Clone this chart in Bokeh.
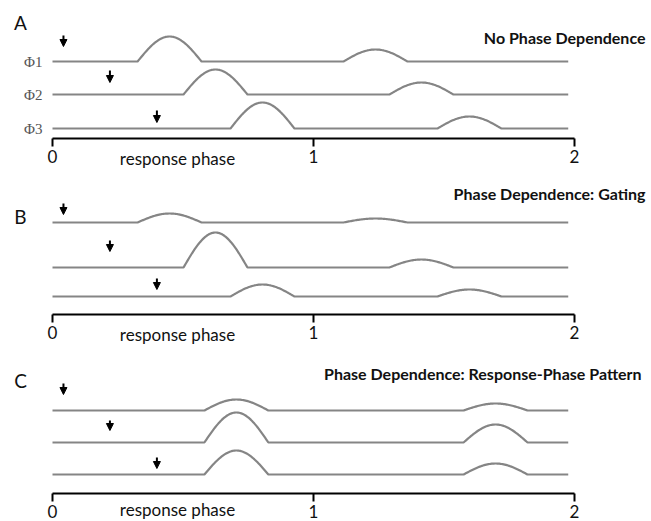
import numpy as np
from bokeh.plotting import figure
from bokeh.models import (Range1d, LinearAxis, FixedTicker, Label, Arrow,
                          NormalHead, ColumnDataSource)
from bokeh.embed import file_html
from bokeh.resources import INLINE

# ---- data -------------------------------------------------------------
phase_ticks = [0, 1, 2]
trace_names = ["\u03a61", "\u03a62", "\u03a63"]
stim_phase = [0.042, 0.22, 0.40]          # arrow (stimulus) phase per trace
bump_width = 0.245
trace_end = 1.976

# A: no phase dependence
a_first_start = [0.326, 0.502, 0.682]
a_second_start = [1.115, 1.291, 1.475]
a_first_amp = [25, 25, 26]
a_second_amp = [12, 12, 12]

# B: gating
b_first_start = [0.326, 0.502, 0.682]
b_second_start = [1.115, 1.291, 1.475]
b_first_amp = [9, 35, 12]
b_second_amp = [4, 8, 7]

# C: response-phase pattern
c_first_start = [0.582, 0.582, 0.582]
c_second_start = [1.575, 1.575, 1.575]
c_first_amp = [11, 30, 24]
c_second_amp = [7, 18, 11]

# ---- canvas -----------------------------------------------------------
W, H = 651, 521
PX_PER_PHASE = 261.0
X0 = -52 / PX_PER_PHASE
X1 = (W - 52) / PX_PER_PHASE
FONT = "Lato"

p = figure(width=W, height=H, x_range=Range1d(X0, X1), y_range=Range1d(0, H),
           output_backend="svg", toolbar_location=None,
           x_axis_location=None, y_axis_location=None,
           min_border_left=0, min_border_right=0, min_border_top=0,
           min_border_bottom=0, outline_line_color=None,
           background_fill_color="white", border_fill_color="white")
p.grid.visible = False


def arch(start, amp, base):
    t = np.linspace(0, 1, 60)
    return list(start + t * bump_width), list(base + amp * np.sin(np.pi * t))


def trace(base, s1, a1, s2, a2):
    xs, ys = [0.0], [base]
    for s, a in ((s1, a1), (s2, a2)):
        bx, by = arch(s, a, base)
        xs += bx
        ys += by
    xs.append(trace_end)
    ys.append(base)
    return xs, ys


def panel(level, letter, title, bases, arrow_y, letter_y, title_y,
          first_start, first_amp, second_start, second_amp, names=False,
          caption_dy=-20):
    """Draw one panel whose phase axis sits at height `level`."""
    ax = LinearAxis(ticker=FixedTicker(ticks=phase_ticks), bounds=(0, 2),
                    fixed_location=level)
    ax.axis_line_color = "black"
    ax.axis_line_width = 2.2
    ax.major_tick_line_color = "black"
    ax.major_tick_line_width = 2
    ax.major_tick_out = 8
    ax.major_tick_in = 0
    ax.minor_tick_out = 0
    ax.minor_tick_in = 0
    ax.major_label_standoff = 3
    ax.major_label_text_font = FONT
    ax.major_label_text_font_size = "17px"
    ax.major_label_text_color = "#111111"
    p.add_layout(ax, "below")

    for i in range(3):
        xs, ys = trace(level + bases[i], first_start[i], first_amp[i],
                       second_start[i], second_amp[i])
        p.line(xs, ys, line_color="#858585", line_width=2.2)

    src = ColumnDataSource(dict(x=stim_phase,
                                y0=[level + a[1] for a in arrow_y],
                                y1=[level + a[0] for a in arrow_y]))
    p.add_layout(Arrow(end=NormalHead(size=7, fill_color="black",
                                      line_color="black", line_width=1),
                       x_start="x", y_start="y0", x_end="x", y_end="y1",
                       source=src, line_color="black", line_width=2))

    p.add_layout(Label(x=-32 / PX_PER_PHASE, y=level + letter_y, text=letter,
                       text_font=FONT, text_font_size="19px",
                       text_align="center", text_baseline="middle",
                       text_color="#111111"))
    p.add_layout(Label(x=(645 - 52) / PX_PER_PHASE, y=level + title_y,
                       text=title, text_font=FONT, text_font_style="bold",
                       text_font_size="16px", text_align="right",
                       text_baseline="middle", text_color="#111111"))
    p.add_layout(Label(x=125 / PX_PER_PHASE, y=level + caption_dy,
                       text="response phase",
                       text_font=FONT, text_font_size="17px",
                       text_align="center", text_baseline="middle",
                       text_color="#111111"))
    if names:
        for i in range(3):
            p.add_layout(Label(x=-10 / PX_PER_PHASE, y=level + bases[i],
                               text=trace_names[i],
                               text_font="Liberation Serif",
                               text_font_size="15px", text_align="right",
                               text_baseline="middle", text_color="#555555"))


panel(H - 138, "A", "No Phase Dependence",
      [77, 44, 10], [(92, 103), (56, 68), (16, 28)], 116, 101,
      a_first_start, a_first_amp, a_second_start, a_second_amp, names=True)
panel(H - 314, "B", "Phase Dependence: Gating",
      [92, 47, 18], [(100, 111), (63, 74), (25, 36)], 98, 121,
      b_first_start, b_first_amp, b_second_start, b_second_amp)
panel(H - 493, "C", "Phase Dependence:  Response-Phase Pattern",
      [83, 51, 19], [(99, 110), (63, 73), (25, 36)], 113, 120,
      c_first_start, c_first_amp, c_second_start, c_second_amp,
      caption_dy=-16)

open("out.html", "w").write(file_html(p, INLINE))
